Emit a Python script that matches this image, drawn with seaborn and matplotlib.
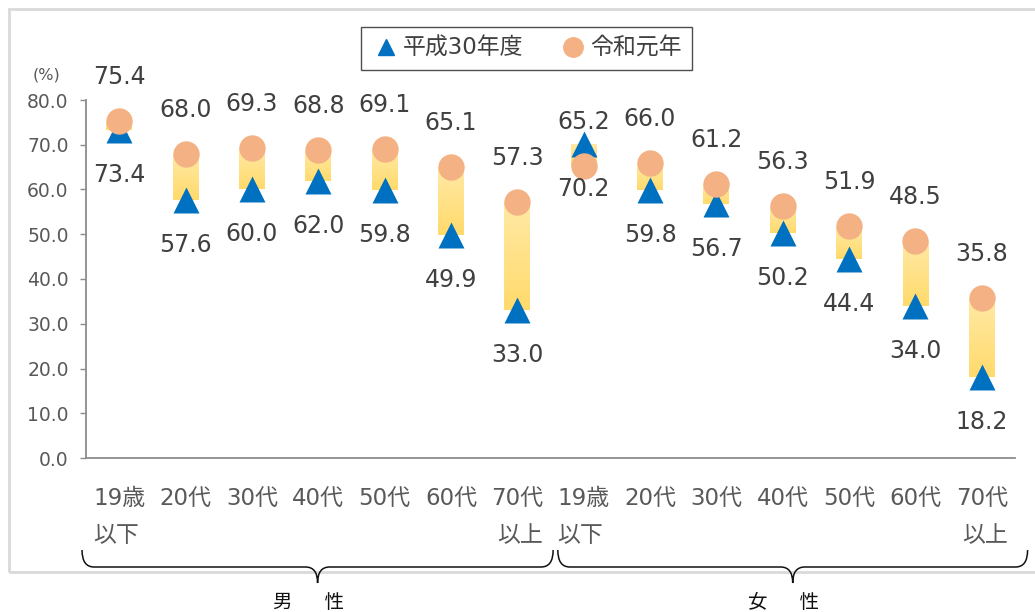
import numpy as np
import pandas as pd
import matplotlib
matplotlib.use('Agg')
import matplotlib.pyplot as plt
import seaborn as sns
from matplotlib.colors import LinearSegmentedColormap
from matplotlib.lines import Line2D
from matplotlib.path import Path
from matplotlib.patches import PathPatch, Rectangle

# ---- data ----
categories = ['19歳\n以下', '20代', '30代', '40代', '50代', '60代', '70代\n以上',
              '19歳\n以下', '20代', '30代', '40代', '50代', '60代', '70代\n以上']
groups = ['男\u3000  性', '女\u3000  性']
group_sizes = [7, 7]
series_names = ['平成30年度', '令和元年']
h30 = [73.4, 57.6, 60.0, 62.0, 59.8, 49.9, 33.0, 70.2, 59.8, 56.7, 50.2, 44.4, 34.0, 18.2]
r1 = [75.4, 68.0, 69.3, 68.8, 69.1, 65.1, 57.3, 65.2, 66.0, 61.2, 56.3, 51.9, 48.5, 35.8]
yticks = [0, 10, 20, 30, 40, 50, 60, 70, 80]

# ---- style ----
sns.set_theme(style='white')
plt.rcParams['font.family'] = ['DejaVu Sans', 'Noto Sans CJK JP']

W, H = 1035, 612
fig = plt.figure(figsize=(W / 100, H / 100), dpi=100)
ax = fig.add_axes([86 / W, 1 - 458 / H, 929 / W, 358 / H])

x = np.arange(len(h30))
df = pd.DataFrame({
    'x': np.concatenate([x, x]),
    'value': h30 + r1,
    'series': [series_names[0]] * len(h30) + [series_names[1]] * len(r1),
})

# gradient range bars
lo = np.minimum(h30, r1)
hi = np.maximum(h30, r1)
bars = ax.bar(x, hi - lo, bottom=lo, width=0.39, color='none', edgecolor='none', zorder=1)
cmap = LinearSegmentedColormap.from_list('g', ['#FFDA6B', '#FFE9A6'])
grad = np.linspace(0, 1, 256).reshape(-1, 1)
for b in bars:
    bx, by, bw, bh = b.get_x(), b.get_y(), b.get_width(), b.get_height()
    im = ax.imshow(grad, extent=[bx, bx + bw, by, by + bh], origin='lower',
                   aspect='auto', cmap=cmap, zorder=1)
    im.set_clip_path(b)

tri_color = '#0070C0'
dot_color = '#F4B183'
sns.scatterplot(data=df[df.series == series_names[0]], x='x', y='value', marker='^',
                color=tri_color, s=350, linewidth=0, ax=ax, zorder=3, legend=False)
sns.scatterplot(data=df[df.series == series_names[1]], x='x', y='value', marker='o',
                color=dot_color, s=360, linewidth=0, ax=ax, zorder=4, legend=False)

# value labels
for xi, v in zip(x, r1):
    ax.annotate(f'{v:.1f}', (xi, v), xytext=(0, 44), textcoords='offset pixels',
                ha='center', va='center', fontsize=17, color='#404040', zorder=5)
for xi, v in zip(x, h30):
    ax.annotate(f'{v:.1f}', (xi, v), xytext=(0, -45), textcoords='offset pixels',
                ha='center', va='center', fontsize=17, color='#404040', zorder=5)

# axes
ax.set_xlim(-0.5, len(h30) - 0.5)
ax.set_ylim(0, 80)
ax.set_yticks(yticks)
ax.set_yticklabels([f'{t:.1f}' for t in yticks])
ax.set_xticks(x)
ax.set_xticklabels(categories)
ax.set_xlabel('')
ax.set_ylabel('')
ax.tick_params(axis='y', which='major', left=True, length=4.5, width=1, color='#8C8C8C',
               labelsize=13.5, labelcolor='#595959', pad=8, direction='out')
ax.tick_params(axis='x', which='major', bottom=False, length=0, labelsize=16.5,
               labelcolor='#595959', pad=21)
for lbl, cat in zip(ax.get_xticklabels(), categories):
    lbl.set_linespacing(1.75)
    lbl.set_verticalalignment('top')
    if '以下' in cat:
        lbl.set_multialignment('left')
    elif '以上' in cat:
        lbl.set_multialignment('right')
for s in ['top', 'right']:
    ax.spines[s].set_visible(False)
for s in ['left', 'bottom']:
    ax.spines[s].set_color('#8C8C8C')
    ax.spines[s].set_linewidth(1.3)
ax.grid(False)

fig.text(46 / W, 1 - 75 / H, '(%)', ha='center', va='center', fontsize=11.5, color='#595959')

# outer frame
fig.patches.append(Rectangle((9 / W, 1 - 572 / H), (1060 - 9) / W, (572 - 9) / H,
                             transform=fig.transFigure, fill=False,
                             edgecolor='#D9D9D9', linewidth=2))

# legend
handles = [Line2D([], [], marker='^', color=tri_color, ls='', ms=12),
           Line2D([], [], marker='o', color=dot_color, ls='', ms=14)]
leg = fig.legend(handles, series_names, loc='center', bbox_to_anchor=(526.5 / W, 1 - 48.5 / H),
                 ncol=2, frameon=True, fancybox=False, edgecolor='#222222', fontsize=16.5,
                 handletextpad=0.1, columnspacing=1.5, borderpad=0.45, handlelength=1.3)
leg.get_frame().set_linewidth(1.0)
for t in leg.get_texts():
    t.set_color('#404040')

# group braces
brace_pad = [(0.56, 0.54), (0.39, 0.69)]
start = 0
for g, n, (pl, pr) in zip(groups, group_sizes, brace_pad):
    x0 = ax.transData.transform((start - pl, 0))[0]
    x1 = ax.transData.transform((start + n - 1 + pr, 0))[0]
    xc = (x0 + x1) / 2
    yt, yl, yp, r = 550, 567, 583, 12
    pts = [(x0, yt), (x0, yl), (x0 + r, yl), (xc - r, yl), (xc, yl), (xc, yp),
           (xc, yl), (xc + r, yl), (x1 - r, yl), (x1, yl), (x1, yt)]
    codes = [Path.MOVETO, Path.CURVE3, Path.CURVE3, Path.LINETO, Path.CURVE3, Path.CURVE3,
             Path.CURVE3, Path.CURVE3, Path.LINETO, Path.CURVE3, Path.CURVE3]
    verts = [(px / W, 1 - py / H) for px, py in pts]
    fig.patches.append(PathPatch(Path(verts, codes), transform=fig.transFigure,
                                 fill=False, edgecolor='#111111', linewidth=1.1))
    fig.text(xc / W - 9 / W, 1 - 602 / H, g, ha='center', va='center', fontsize=14, color='#111111')
    start += n

fig.savefig('out.png', dpi=100, facecolor='white')
